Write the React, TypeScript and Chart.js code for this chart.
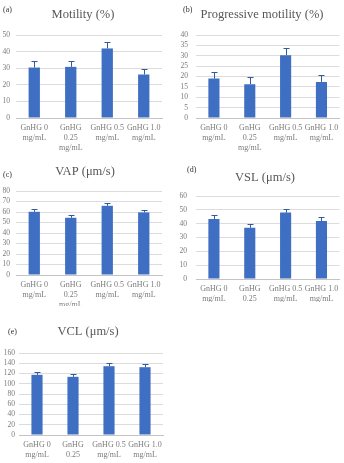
import { useEffect, useRef } from "react";
import { Chart, registerables } from "chart.js";

Chart.register(...registerables);

// Dose groups shown on every x axis (multi-line labels)
const doseLabels: string[][] = [
  ["GnHG 0", "mg/mL"],
  ["GnHG", "0.25", "mg/mL"],
  ["GnHG 0.5", "mg/mL"],
  ["GnHG 1.0", "mg/mL"],
];

// Means and standard deviations per dose group
const motilityMean = [30.4, 30.8, 41.9, 26.2];
const motilitySd = [3.9, 3.7, 3.9, 3.6];

const progressiveMean = [19.0, 16.3, 30.3, 17.4];
const progressiveSd = [3.3, 3.5, 3.6, 3.2];

const vapMean = [60.2, 54.5, 65.9, 59.6];
const vapSd = [2.5, 2.5, 2.3, 2.5];

const vslMean = [43.4, 37.1, 48.0, 41.9];
const vslSd = [2.6, 2.7, 2.4, 2.7];

const vclMean = [117.4, 113.5, 134.2, 132.3];
const vclSd = [6.5, 5.9, 5.8, 5.7];

// Axis ranges
const motilityAxis = { max: 50, step: 10 };
const progressiveAxis = { max: 40, step: 5 };
const vapAxis = { max: 80, step: 10 };
const vslAxis = { max: 60, step: 10 };
const vclAxis = { max: 160, step: 20 };

const SERIF = "'Liberation Serif', 'Times New Roman', serif";
const BAR_COLOR = "#3f6fc2";
const ERR_COLOR = "#2f5b9f";
const TICK_COLOR = "#7b7b7b";

type Panel = {
  tag: string;
  title: string;
  mean: number[];
  sd: number[];
  axis: { max: number; step: number };
  left: number;
  top: number;
  w: number;
  h: number;
  area: { left: number; right: number; top: number; bottom: number };
  titlePos: [number, number];
  tagPos: [number, number];
  yPad: number;
};

const panels: Panel[] = [
  {
    tag: "(a)", title: "Motility (%)", mean: motilityMean, sd: motilitySd, axis: motilityAxis,
    left: 0, top: 0, w: 172, h: 156,
    area: { left: 16, right: 162, top: 35, bottom: 118 },
    titlePos: [83, 15], tagPos: [3, 10], yPad: 6,
  },
  {
    tag: "(b)", title: "Progressive motility (%)", mean: progressiveMean, sd: progressiveSd, axis: progressiveAxis,
    left: 172, top: 0, w: 172, h: 156,
    area: { left: 24, right: 169, top: 35, bottom: 118 },
    titlePos: [90, 15], tagPos: [11, 10], yPad: 8,
  },
  {
    tag: "(c)", title: "VAP (\u03bcm/s)", mean: vapMean, sd: vapSd, axis: vapAxis,
    left: 0, top: 155, w: 172, h: 151,
    area: { left: 16, right: 162, top: 36, bottom: 120 },
    titlePos: [85, 17], tagPos: [3, 20], yPad: 6,
  },
  {
    tag: "(d)", title: "VSL (\u03bcm/s)", mean: vslMean, sd: vslSd, axis: vslAxis,
    left: 172, top: 155, w: 172, h: 147,
    area: { left: 24, right: 169, top: 41, bottom: 124 },
    titlePos: [93, 23], tagPos: [15, 15], yPad: 9,
  },
  {
    tag: "(e)", title: "VCL (\u03bcm/s)", mean: vclMean, sd: vclSd, axis: vclAxis,
    left: 0, top: 306, w: 172, h: 154,
    area: { left: 19, right: 163, top: 47, bottom: 129 },
    titlePos: [88, 26], tagPos: [8, 26], yPad: 4,
  },
];

// Upper error bar with a small cap above each bar
const errorBarPlugin = {
  id: "errorBars",
  afterDatasetsDraw(chart: any, _args: any, opts: any) {
    const sd: number[] = opts.values || [];
    const meta = chart.getDatasetMeta(0);
    const yScale = chart.scales.y;
    const data = chart.data.datasets[0].data as number[];
    const ctx = chart.ctx;
    ctx.save();
    ctx.strokeStyle = opts.color;
    ctx.lineWidth = 1;
    meta.data.forEach((bar: any, i: number) => {
      const yTop = Math.round(yScale.getPixelForValue(data[i] + sd[i])) + 0.5;
      const x = Math.round(bar.x) + 0.5;
      ctx.beginPath();
      ctx.moveTo(x, bar.y);
      ctx.lineTo(x, yTop);
      ctx.moveTo(x - 3, yTop);
      ctx.lineTo(x + 3, yTop);
      ctx.stroke();
    });
    ctx.restore();
  },
};

// Panel heading and letter tag
const panelTextPlugin = {
  id: "panelText",
  afterDraw(chart: any, _args: any, opts: any) {
    const ctx = chart.ctx;
    ctx.save();
    ctx.textBaseline = "middle";
    ctx.fillStyle = "#575757";
    ctx.font = `12.5px ${SERIF}`;
    ctx.textAlign = "center";
    ctx.fillText(opts.title, opts.titlePos[0], opts.titlePos[1]);
    ctx.fillStyle = "#333333";
    ctx.font = `8px ${SERIF}`;
    ctx.textAlign = "left";
    ctx.fillText(opts.tag, opts.tagPos[0], opts.tagPos[1]);
    ctx.restore();
  },
};

function BarPanel({ p }: { p: Panel }) {
  const ref = useRef<HTMLCanvasElement>(null);

  useEffect(() => {
    if (!ref.current) return;
    const yWidth = p.area.left;
    const xHeight = p.h - p.area.bottom;
    const chart = new Chart(ref.current, {
      type: "bar",
      data: {
        labels: doseLabels,
        datasets: [
          {
            data: p.mean,
            backgroundColor: BAR_COLOR,
            borderWidth: 0,
            barPercentage: 0.31,
            categoryPercentage: 1,
          },
        ],
      },
      options: {
        responsive: false,
        animation: false,
        devicePixelRatio: 1,
        layout: {
          padding: { left: 0, top: p.area.top, right: p.w - p.area.right, bottom: 0 },
        },
        plugins: {
          legend: { display: false },
          title: { display: false },
          tooltip: { enabled: false },
          errorBars: { values: p.sd, color: ERR_COLOR },
          panelText: { title: p.title, tag: p.tag, titlePos: p.titlePos, tagPos: p.tagPos },
        } as any,
        scales: {
          x: {
            offset: true,
            grid: { display: false, drawTicks: false },
            border: { display: true, color: "#c4c4c4", width: 1 },
            ticks: {
              autoSkip: false,
              maxRotation: 0,
              minRotation: 0,
              padding: 5.5,
              color: TICK_COLOR,
              font: { family: SERIF, size: 8, lineHeight: 1.2 },
            },
            afterFit: (s: any) => {
              s.height = xHeight;
            },
          },
          y: {
            min: 0,
            max: p.axis.max,
            grid: { color: "#dcdcdc", drawTicks: false, lineWidth: 1 },
            border: { display: false },
            ticks: {
              stepSize: p.axis.step,
              autoSkip: false,
              padding: p.yPad,
              color: TICK_COLOR,
              font: { family: SERIF, size: 7.5 },
            },
            afterFit: (s: any) => {
              s.width = yWidth;
            },
          },
        },
      },
      plugins: [errorBarPlugin, panelTextPlugin],
    });
    return () => chart.destroy();
  }, [p]);

  return (
    <canvas
      ref={ref}
      width={p.w}
      height={p.h}
      style={{ position: "absolute", left: p.left, top: p.top, width: p.w, height: p.h }}
    />
  );
}

export default function App() {
  return (
    <div
      style={{
        position: "fixed",
        left: 0,
        top: 0,
        width: 344,
        height: 463,
        background: "#ffffff",
        overflow: "hidden",
      }}
    >
      {panels.map((p) => (
        <BarPanel key={p.tag} p={p} />
      ))}
    </div>
  );
}
